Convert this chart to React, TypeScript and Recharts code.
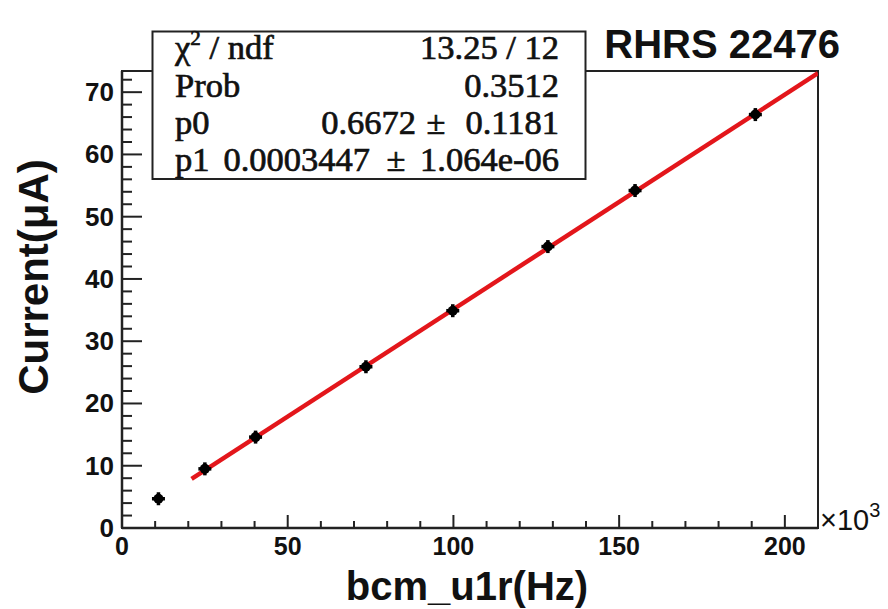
import React from 'react';
import { ScatterChart, Scatter, XAxis, YAxis, ReferenceArea } from 'recharts';

// bcm_u1r rate in units of 10^3 Hz, current in uA
const bcmRate = [11, 25, 40.3, 73.6, 99.8, 128.5, 154.8, 191.1];
const current = [4.7, 9.5, 14.6, 25.9, 34.9, 45.2, 54.2, 66.4];

// ends of the fitted line (pol1)
const fitRate = [21, 210];
const fitCurrent = [7.9, 73.05];

const xTicks = [0, 10, 20, 30, 40, 50, 60, 70, 80, 90, 100, 110, 120, 130, 140, 150, 160, 170, 180, 190, 200, 210];
const xLabels = [0, 50, 100, 150, 200];
const yTicks = Array.from({ length: 37 }, (_, i) => i * 2);
const yLabels = [0, 10, 20, 30, 40, 50, 60, 70];

const statNames = ['Prob', 'p0', 'p1'];
const statValues = ['0.3512', '0.6672', '0.0003447'];
const statErrors = ['', '0.1181', '1.064e-06'];

const points = bcmRate.map((x, i) => ({ x, y: current[i] }));
const fit = fitRate.map((x, i) => ({ x, y: fitCurrent[i] }));

const SANS = '"Liberation Sans", Arial, Helvetica, sans-serif';
const SERIF = '"Liberation Serif", "Times New Roman", serif';
const AXIS = '#222';

const XTick = (props: any) => {
  const { x, y, payload } = props;
  const v = payload.value;
  const major = xLabels.includes(v);
  return (
    <g>
      <line x1={x} x2={x} y1={y} y2={y - (major ? 13 : 7)} stroke={AXIS} strokeWidth={2} />
      {major && (
        <text x={x} y={y + 27} textAnchor="middle" fontFamily={SANS} fontWeight="bold" fontSize={25} fill="#111">
          {v}
        </text>
      )}
    </g>
  );
};

const YTick = (props: any) => {
  const { x, y, payload } = props;
  const v = payload.value;
  const major = yLabels.includes(v);
  return (
    <g>
      <line x1={x} x2={x + (major ? 20 : 10)} y1={y} y2={y} stroke={AXIS} strokeWidth={2} />
      {major && (
        <text x={x - 8} y={y + 9} textAnchor="end" fontFamily={SANS} fontWeight="bold" fontSize={26} fill="#111">
          {v}
        </text>
      )}
    </g>
  );
};

const Marker = (props: any) => {
  const { cx, cy } = props;
  return (
    <g>
      <line x1={cx - 6.5} x2={cx + 6.5} y1={cy} y2={cy} stroke="#000" strokeWidth={3.5} />
      <line x1={cx} x2={cx} y1={cy - 6.5} y2={cy + 6.5} stroke="#000" strokeWidth={3.5} />
      <circle cx={cx} cy={cy} r={5} fill="#000" />
    </g>
  );
};

export default function App() {
  return (
    <div style={{ position: 'absolute', left: 0, top: 0, width: 888, height: 609, background: '#fff' }}>
      <ScatterChart width={888} height={609} margin={{ top: 71, right: 70, bottom: 80, left: 121 }}>
        <XAxis
          type="number"
          dataKey="x"
          domain={[0, 210]}
          ticks={xTicks}
          interval={0}
          height={1}
          tickSize={0}
          tickMargin={0}
          tickLine={false}
          tick={<XTick />}
          axisLine={{ stroke: AXIS, strokeWidth: 2.5 }}
          allowDataOverflow
        />
        <YAxis
          type="number"
          dataKey="y"
          domain={[0, 73.4]}
          ticks={yTicks}
          interval={0}
          width={1}
          tickSize={0}
          tickMargin={0}
          tickLine={false}
          tick={<YTick />}
          axisLine={{ stroke: AXIS, strokeWidth: 2.5 }}
          allowDataOverflow
        />
        <ReferenceArea x1={0} x2={210} y1={0} y2={73.4} fill="none" stroke={AXIS} strokeWidth={2} ifOverflow="visible" />
        <Scatter
          data={fit}
          line={{ stroke: '#e3161b', strokeWidth: 4.5 }}
          shape={() => <g />}
          isAnimationActive={false}
        />
        <Scatter data={points} shape={<Marker />} isAnimationActive={false} />
      </ScatterChart>

      <svg width={888} height={609} style={{ position: 'absolute', left: 0, top: 0, pointerEvents: 'none' }}>
        <rect x={152.5} y={31.5} width={433} height={147.5} fill="#fff" stroke={AXIS} strokeWidth={2} />
        <g fontFamily={SERIF} fontSize={34.5} fill="#111" stroke="#111" strokeWidth={0.7}>
          <text x={175} y={59}>
            χ<tspan dy={-14} fontSize={21}>2</tspan>
            <tspan dy={14}> / ndf</tspan>
          </text>
          <text x={559} y={59} textAnchor="end">13.25 / 12</text>
          <text x={175} y={97}>{statNames[0]}</text>
          <text x={559} y={97} textAnchor="end">{statValues[0]}</text>
          <text x={175} y={134}>{statNames[1]}</text>
          <text x={416} y={134} textAnchor="end">{statValues[1]}</text>
          <text x={436} y={134} textAnchor="middle">±</text>
          <text x={559} y={134} textAnchor="end">{statErrors[1]}</text>
          <text x={175} y={171}>{statNames[2]}</text>
          <text x={370} y={171} textAnchor="end">{statValues[2]}</text>
          <text x={396} y={171} textAnchor="middle">±</text>
          <text x={559} y={171} textAnchor="end">{statErrors[2]}</text>
        </g>
        <text x={840} y={58} textAnchor="end" fontFamily={SANS} fontWeight="bold" fontSize={40} fill="#111">
          RHRS 22476
        </text>
        <text
          transform="translate(48,277) rotate(-90)"
          textAnchor="middle"
          fontFamily={SANS}
          fontWeight="bold"
          fontSize={42}
          fill="#111"
        >
          Current(μA)
        </text>
        <text x={467} y={600} textAnchor="middle" fontFamily={SANS} fontWeight="bold" fontSize={40} fill="#111">
          bcm_u1r(Hz)
        </text>
        <text x={820} y={530} fontFamily={SANS} fontSize={29} fill="#111">
          ×10<tspan dy={-13} fontSize={20}>3</tspan>
        </text>
      </svg>
    </div>
  );
}
